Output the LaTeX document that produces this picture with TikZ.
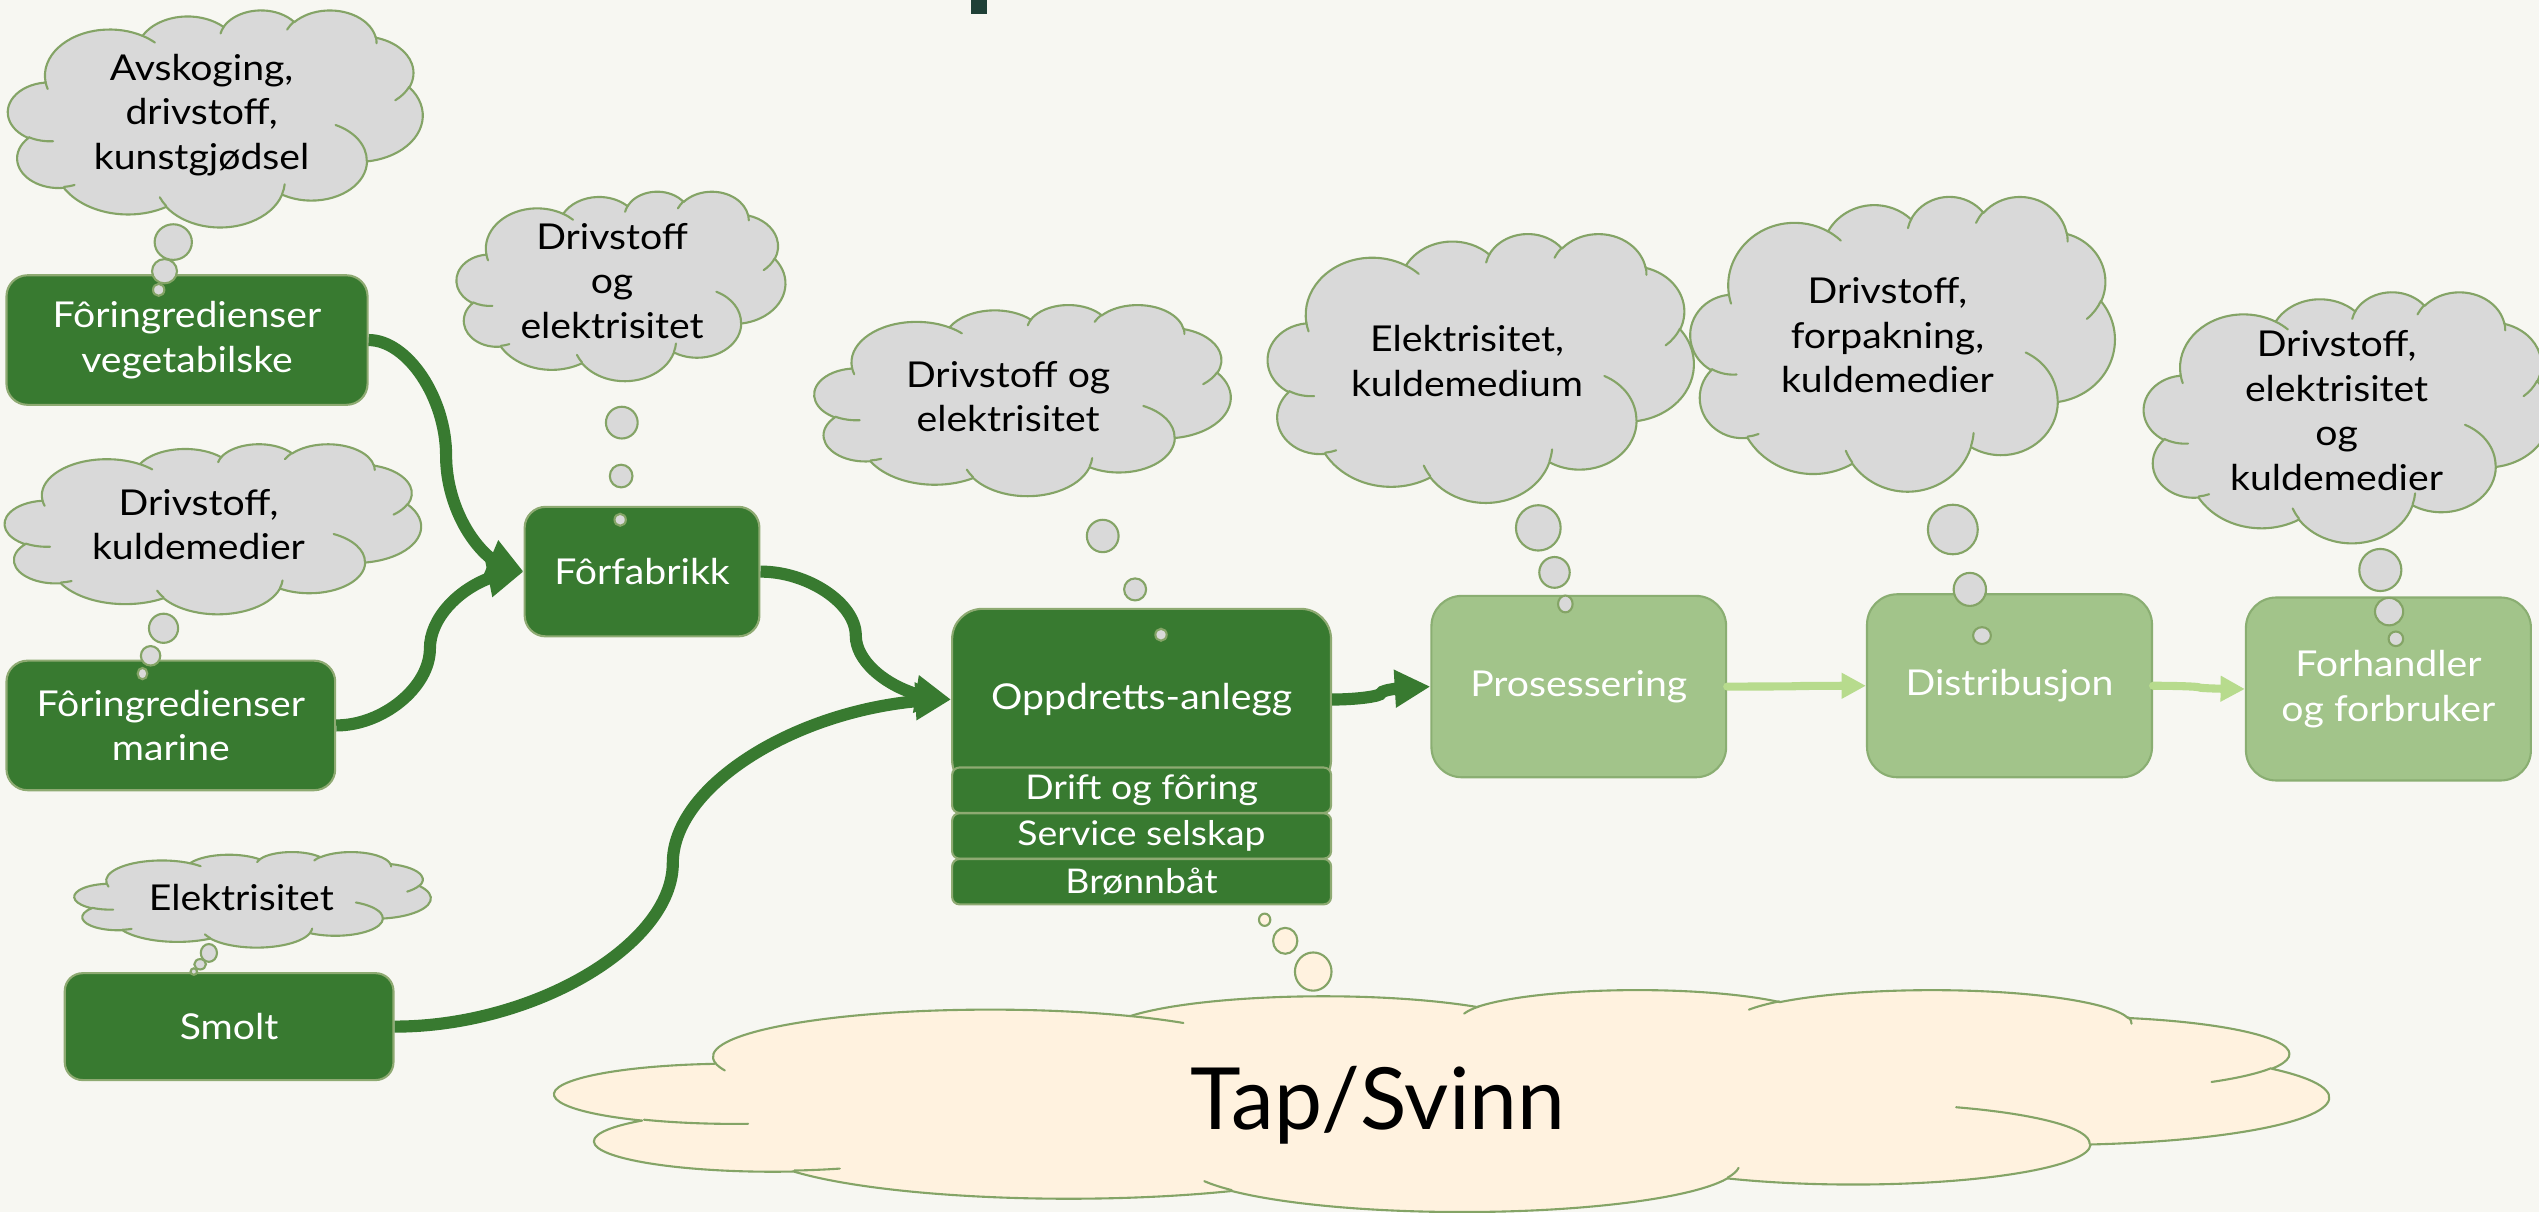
\documentclass[tikz,border=0pt]{standalone}
\usepackage{fontspec}
\setmainfont{Lato}[FakeStretch=1.1]
\newfontfamily\bigfont{Lato}
\usetikzlibrary{arrows.meta,bending,calc}
\definecolor{bg}{HTML}{F7F7F2}
\definecolor{dgreen}{HTML}{387A30}
\definecolor{boxline}{HTML}{8EAA72}
\definecolor{lgreen}{HTML}{A2C48A}
\definecolor{lboxline}{HTML}{8AAE72}
\definecolor{larrow}{HTML}{B7DB8D}
\definecolor{cloudfill}{HTML}{D9D9D9}
\definecolor{cloudline}{HTML}{84A466}
\definecolor{tapfill}{HTML}{FFF2DF}
\definecolor{darkteal}{HTML}{1F4037}

% one elliptical arc of the PowerPoint cloud (radii in 1/1000 of the frame, angles in degrees, visual angles)
\newcommand\cldarc[4]{%
  \pgfmathsetmacro\cldA{atan2((#1)*sin(#3),(#2)*cos(#3))}%
  \pgfmathsetmacro\cldB{atan2((#1)*sin((#3)+(#4)),(#2)*cos((#3)+(#4)))}%
  \pgfmathsetmacro\cldB{\cldB+360*(\cldB<\cldA)}%
  \pgfpatharcaxes{\cldA}{\cldB}{\pgfpointxy{#1}{0}}{\pgfpointxy{0}{#2}}%
}
% cloud: left, top, width, height, fill
\newcommand\pptcloud[5]{%
  \begin{scope}[shift={(#1,#2)}]
    \pgfmathsetmacro\cldW{(#3)/43.2}%
    \pgfmathsetmacro\cldH{(#4)/43.2}%
    \begin{scope}[x={(\cldW pt,0pt)},y={(0pt,-\cldH pt)}]
      \pgfsetlinewidth{1.3pt}%
      \pgfsetstrokecolor{cloudline}%
      \pgfsetfillcolor{#5}%
      \pgfsetroundjoin
      \pgfsetroundcap
      \pgfpathmoveto{\pgfpointxy{3.9}{14.37}}%
      \cldarc{6.753}{9.19}{-190.4875}{123.7805}%
      \cldarc{5.333}{7.267}{-144.1024}{89.9452}%
      \cldarc{4.365}{5.945}{-145.8079}{99.723}%
      \cldarc{4.857}{6.595}{-130.9861}{117.2417}%
      \cldarc{5.333}{7.273}{-78.7089}{109.0269}%
      \cldarc{6.775}{9.22}{-46.2673}{130.269}%
      \cldarc{5.785}{7.867}{0.625}{114.0333}%
      \cldarc{6.752}{9.215}{22.4516}{115.1726}%
      \cldarc{7.72}{10.543}{66.2426}{75.711}%
      \cldarc{4.36}{5.918}{-274.9421}{146.7356}%
      \cldarc{4.345}{5.945}{-246.8285}{152.5189}%
      \pgfpathclose
      \pgfusepath{fill,stroke}%
      \pgfpathmoveto{\pgfpointxy{4.693}{26.177}}\cldarc{4.345}{5.945}{86.742}{26.4295}%
      \pgfpathmoveto{\pgfpointxy{6.928}{34.899}}\cldarc{4.36}{5.918}{73.6105}{11.4475}%
      \pgfpathmoveto{\pgfpointxy{16.478}{39.09}}\cldarc{6.752}{9.215}{137.6242}{14.0811}%
      \pgfpathmoveto{\pgfpointxy{28.827}{34.751}}\cldarc{6.752}{9.215}{6.4533}{15.9984}%
      \pgfpathmoveto{\pgfpointxy{34.129}{22.954}}\cldarc{5.785}{7.867}{-70.2924}{70.9174}%
      \pgfpathmoveto{\pgfpointxy{41.798}{15.354}}\cldarc{5.333}{7.273}{30.318}{27.7515}%
      \pgfpathmoveto{\pgfpointxy{38.324}{5.426}}\cldarc{4.857}{6.595}{-13.7443}{14.8589}%
      \pgfpathmoveto{\pgfpointxy{29.078}{3.952}}\cldarc{4.857}{6.595}{-149.1815}{18.1954}%
      \pgfpathmoveto{\pgfpointxy{22.141}{4.72}}\cldarc{4.365}{5.945}{-163.4943}{17.6864}%
      \pgfpathmoveto{\pgfpointxy{14}{5.192}}\cldarc{6.753}{9.19}{-66.707}{12.3194}%
      \pgfpathmoveto{\pgfpointxy{4.127}{15.789}}\cldarc{6.753}{9.19}{157.6544}{11.8582}%
      \pgfusepath{stroke}%
    \end{scope}
  \end{scope}}
% curved S connector (like a PowerPoint curved connector)
\newcommand\sconn[3]{%
  \draw[#1] let \p1=(#2), \p2=(#3) in (\p1)
    .. controls ({0.75*\x1+0.25*\x2},\y1) and ({0.5*\x1+0.5*\x2},{0.75*\y1+0.25*\y2})
    .. ({0.5*\x1+0.5*\x2},{0.5*\y1+0.5*\y2})
    .. controls ({0.5*\x1+0.5*\x2},{0.25*\y1+0.75*\y2}) and ({0.25*\x1+0.75*\x2},\y2)
    .. (\p2);}
\newcommand\txtfont{\fontsize{22}{27.5}\selectfont}

\begin{document}
\begin{tikzpicture}[x=1pt,y=-1pt,
  dbox/.style={draw=boxline, line width=1.3pt, fill=dgreen, text=white, align=center, inner sep=0pt, font=\txtfont},
  sbox/.style={dbox, minimum width=234pt, minimum height=28pt, rounded corners=4.5pt, font=\fontsize{21}{25}\selectfont},
  lbox/.style={draw=lboxline, line width=1.3pt, fill=lgreen, text=white, align=center, inner sep=0pt, font=\txtfont},
  ctext/.style={align=center, inner sep=0pt, text=black, font=\txtfont},
  darr/.style={draw=dgreen, line width=7.5pt, -{Triangle[flex, length=22pt, width=22pt]}},
  larr/.style={draw=larrow, line width=5pt, line cap=round, -{Triangle[flex, length=15pt, width=15pt]}},
  bubble/.style={draw=cloudline, line width=1.3pt, fill=cloudfill},
  tbubble/.style={draw=cloudline, line width=1.3pt, fill=tapfill}]
\useasboundingbox (0,0) rectangle (1568,748.6);
\fill[bg] (0,0) rectangle (1568,748.6);
\fill[darkteal] (599.8,0) rectangle (609.4,8.6);

% boxes
\node[dbox, minimum width=223pt, minimum height=80pt, rounded corners=13pt] (veg) at (115.5,210) {Fôringredienser\\vegetabilske};
\node[dbox, minimum width=203pt, minimum height=80pt, rounded corners=13pt] (mar) at (105.5,448) {Fôringredienser\\marine};
\node[dbox, minimum width=145pt, minimum height=80pt, rounded corners=13pt] (fab) at (396.5,353) {Fôrfabrikk};
\node[dbox, minimum width=203pt, minimum height=66pt, rounded corners=11pt] (smolt) at (141.5,634) {Smolt};
\node[dbox, minimum width=234pt, minimum height=112pt, rounded corners=18.7pt] (opp) at (705,432) {Oppdretts-anlegg};
\node[sbox] (drift) at (705,488) {Drift og fôring};
\node[sbox] (serv) at (705,516.25) {Service selskap};
\node[sbox] (bronn) at (705,544.5) {Brønnbåt};
\node[lbox, minimum width=182pt, minimum height=112pt, rounded corners=18.7pt] (pro) at (975,424) {Prosessering};
\node[lbox, minimum width=176pt, minimum height=113pt, rounded corners=18.7pt] (dist) at (1241,423.5) {Distribusjon};
\node[lbox, minimum width=176pt, minimum height=113pt, rounded corners=18.7pt] (forh) at (1475,425.5) {Forhandler\\og forbruker};

% connectors
\sconn{darr}{veg.east}{fab.west}
\sconn{darr}{mar.east}{fab.west}
\sconn{darr}{fab.east}{opp.west}
\sconn{darr}{smolt.east}{opp.west}
\sconn{darr}{opp.east}{pro.west}
\sconn{larr}{pro.east}{dist.west}
\sconn{larr}{dist.east}{forh.west}

% clouds
\pptcloud{5}{6}{256}{134}{cloudfill}
\pptcloud{282}{118}{203}{117}{cloudfill}
\pptcloud{3}{274}{257}{105}{cloudfill}
\pptcloud{46}{526}{220}{59}{cloudfill}
\pptcloud{503}{188}{257}{118}{cloudfill}
\pptcloud{783}{144}{263}{166}{cloudfill}
\pptcloud{1044}{121}{262}{182}{cloudfill}
\pptcloud{1324}{180}{251}{155}{cloudfill}
\pptcloud{343}{611}{1095}{137}{tapfill}

% bubbles
\draw[bubble] (107,149.5) ellipse[x radius=11.5, y radius=11];
\draw[bubble] (101.6,167.5) ellipse[x radius=7.7, y radius=7.5];
\draw[bubble] (98,179) ellipse[x radius=3.5, y radius=3.7];
\draw[bubble] (384,261) ellipse[x radius=9.8, y radius=9.8];
\draw[bubble] (383.6,294) ellipse[x radius=7, y radius=7];
\draw[bubble] (383,321) ellipse[x radius=3.5, y radius=3.7];
\draw[bubble] (101,388) ellipse[x radius=9, y radius=9];
\draw[bubble] (93,405) ellipse[x radius=6, y radius=6];
\draw[bubble] (88,416) ellipse[x radius=3, y radius=3.5];
\draw[bubble] (129,588.5) ellipse[x radius=5, y radius=5.5];
\draw[bubble] (123.6,595.5) ellipse[x radius=3.6, y radius=3.2];
\draw[bubble] (119.7,600) ellipse[x radius=2, y radius=2];
\draw[bubble] (681,331) ellipse[x radius=9.8, y radius=10];
\draw[bubble] (701,364) ellipse[x radius=6.8, y radius=6.8];
\draw[bubble] (717,392) ellipse[x radius=3.5, y radius=3.7];
\draw[bubble] (950,326) ellipse[x radius=13.8, y radius=14];
\draw[bubble] (960,353.5) ellipse[x radius=9.4, y radius=9.5];
\draw[bubble] (966.7,373) ellipse[x radius=4.5, y radius=5.2];
\draw[bubble] (1206,327) ellipse[x radius=15.4, y radius=15.3];
\draw[bubble] (1216.5,364) ellipse[x radius=10, y radius=10.2];
\draw[bubble] (1224,392.5) ellipse[x radius=5.5, y radius=5.2];
\draw[bubble] (1470,352) ellipse[x radius=13, y radius=13];
\draw[bubble] (1475.4,377.7) ellipse[x radius=8.7, y radius=8.5];
\draw[bubble] (1479.6,394.5) ellipse[x radius=4.5, y radius=4.5];
\draw[tbubble] (781,568) ellipse[x radius=3.5, y radius=3.8];
\draw[tbubble] (793.7,581) ellipse[x radius=7.5, y radius=8];
\draw[tbubble] (811,600) ellipse[x radius=11.3, y radius=11.8];

% cloud texts
\node[ctext] (c1) at (124.5,71) {Avskoging,\\drivstoff,\\kunstgjødsel};
\node[ctext] (c2) at (378,173.4) {Drivstoff\\og\\elektrisitet};
\node[ctext] (c3) at (122.6,324) {Drivstoff,\\kuldemedier};
\node[ctext] (c4) at (149,554) {Elektrisitet};
\node[ctext] (c5) at (622.6,245) {Drivstoff og\\elektrisitet};
\node[ctext] (c6) at (906,223) {Elektrisitet,\\kuldemedium};
\node[ctext] (c7) at (1165.6,207) {Drivstoff,\\forpakning,\\kuldemedier};
\node[ctext] (c8) at (1443,253.5) {Drivstoff,\\elektrisitet\\og\\kuldemedier};
\node[ctext, font=\bigfont\fontsize{53}{60}\selectfont] (tap) at (851,682.5) {Tap/Svinn};
\end{tikzpicture}
\end{document}
